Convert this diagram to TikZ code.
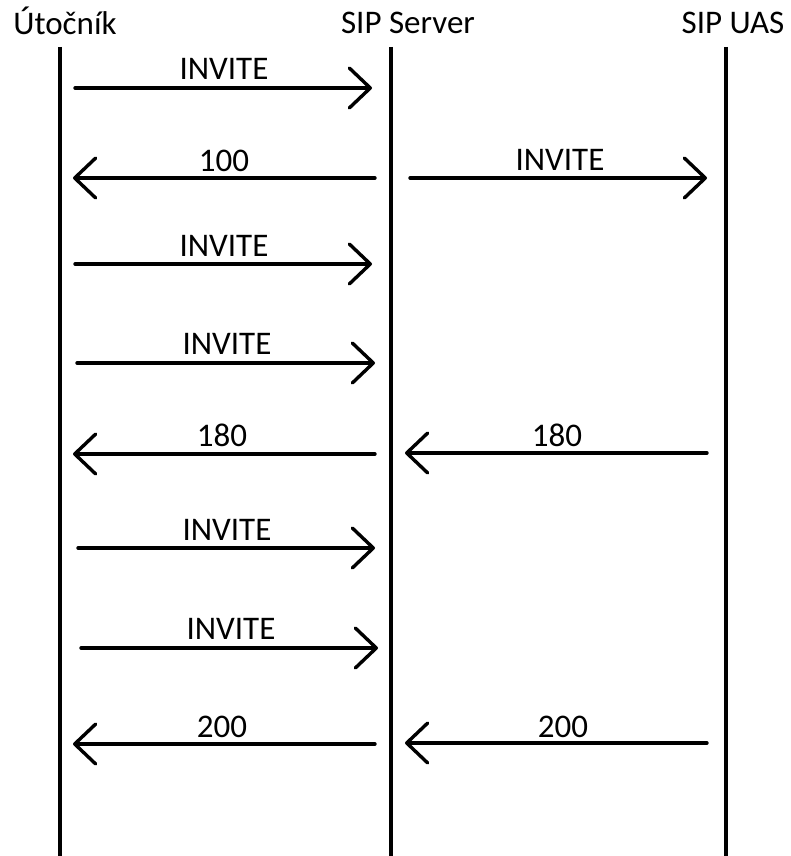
\documentclass[tikz,border=0pt]{standalone}
\usepackage{fontspec}
\setmainfont{Carlito}
\usetikzlibrary{arrows.meta}
\begin{document}
\begin{tikzpicture}[x=1pt,y=-1pt,
  lifeline/.style={line width=3.4pt},
  msg/.style={line width=3.4pt,line cap=round,-{Straight Barb[length=21pt,width=40pt,line width=3.4pt,round]}},
  lbl/.style={anchor=base,inner sep=0pt,font=\fontsize{33}{36}\selectfont},
  hdr/.style={anchor=base,inner sep=0pt,font=\fontsize{33}{36}\selectfont}]
\useasboundingbox (0,0) rectangle (791,856);
% headers
\node[hdr] (hA) at (65,35) {Útočník};
\node[hdr] (hB) at (408,34) {SIP Server};
\node[hdr] (hC) at (733,34) {SIP UAS};
% lifelines
\coordinate (aT) at (60,47);  \coordinate (aB) at (60,856);
\coordinate (bT) at (391,47); \coordinate (bB) at (391,856);
\coordinate (cT) at (726,47); \coordinate (cB) at (726,856);
\draw[lifeline] (aT) -- (aB);
\draw[lifeline] (bT) -- (bB);
\draw[lifeline] (cT) -- (cB);
% message end points
\coordinate (m1s) at (75,88);   \coordinate (m1e) at (372,88);
\coordinate (m2s) at (375,178); \coordinate (m2e) at (73,178);
\coordinate (m3s) at (410,178); \coordinate (m3e) at (707,178);
\coordinate (m4s) at (75,264);  \coordinate (m4e) at (372,264);
\coordinate (m5s) at (77,363);  \coordinate (m5e) at (375,363);
\coordinate (m6s) at (375,454); \coordinate (m6e) at (73,454);
\coordinate (m7s) at (707,453); \coordinate (m7e) at (405,453);
\coordinate (m8s) at (78,548);  \coordinate (m8e) at (375,548);
\coordinate (m9s) at (81,648);  \coordinate (m9e) at (378,648);
\coordinate (m10s) at (375,744); \coordinate (m10e) at (73,744);
\coordinate (m11s) at (707,743); \coordinate (m11e) at (405,743);
% messages
\draw[msg] (m1s) -- (m1e);
\draw[msg] (m2s) -- (m2e);
\draw[msg] (m3s) -- (m3e);
\draw[msg] (m4s) -- (m4e);
\draw[msg] (m5s) -- (m5e);
\draw[msg] (m6s) -- (m6e);
\draw[msg] (m7s) -- (m7e);
\draw[msg] (m8s) -- (m8e);
\draw[msg] (m9s) -- (m9e);
\draw[msg] (m10s) -- (m10e);
\draw[msg] (m11s) -- (m11e);
% labels
\node[lbl] (l1) at (224,80) {INVITE};
\node[lbl] (l2) at (224,171) {100};
\node[lbl] (l3) at (560,170) {INVITE};
\node[lbl] (l4) at (224,256) {INVITE};
\node[lbl] (l5) at (227,354) {INVITE};
\node[lbl] (l6) at (222,446) {180};
\node[lbl] (l7) at (557,446) {180};
\node[lbl] (l8) at (227,540) {INVITE};
\node[lbl] (l9) at (231,639) {INVITE};
\node[lbl] (l10) at (222,737) {200};
\node[lbl] (l11) at (563,737) {200};
\end{tikzpicture}
\end{document}
